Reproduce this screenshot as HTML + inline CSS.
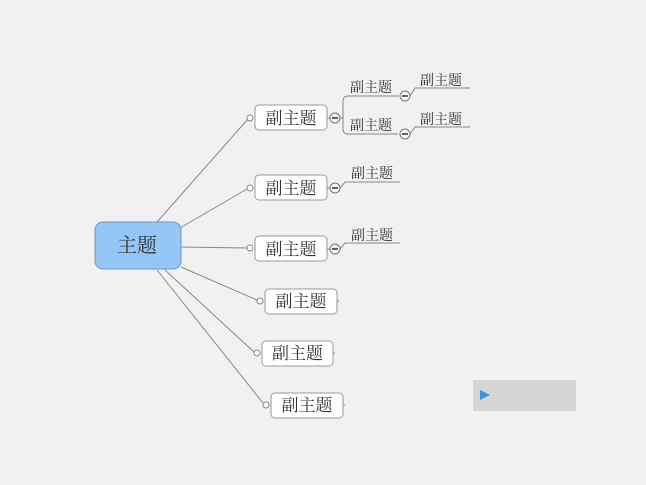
<!DOCTYPE html>
<html><head><meta charset="utf-8"><style>
html,body{margin:0;padding:0;background:#f1f1f1;}
svg{display:block}
text{font-family:"Liberation Serif","Noto Serif CJK SC",serif;fill:#333}
</style></head><body>
<svg width="646" height="485" xmlns="http://www.w3.org/2000/svg">
<rect width="646" height="485" fill="#f1f1f1"/>
<g stroke="#888" stroke-width="1" fill="none">
<line x1="157" y1="222" x2="248" y2="119"/>
<line x1="180" y1="228" x2="247" y2="189"/>
<line x1="181" y1="247" x2="247" y2="248"/>
<line x1="181" y1="267" x2="257" y2="300"/>
<line x1="165" y1="270" x2="254" y2="352"/>
<line x1="157" y1="270" x2="263" y2="403"/>
<line x1="327" y1="118" x2="330" y2="118"/>
<line x1="327" y1="188" x2="330" y2="188"/>
<line x1="327" y1="249" x2="330" y2="249"/>
<line x1="337" y1="301" x2="339" y2="301"/>
<line x1="333" y1="353" x2="335" y2="353"/>
<line x1="343" y1="405" x2="345" y2="405"/>
<path d="M340 118 H343 M343 118 V101 Q343 96 348 96 H398 M343 118 V129 Q343 134 348 134 H398"/>
<path d="M410 96 L415 88 H470 M410 134 L415 127 H470"/>
<path d="M340 188 L345 182 H400 M340 249 L345 243 H400"/>
</g>
<g fill="#fff" stroke="#888">
<circle cx="250" cy="118" r="3"/><circle cx="250" cy="188" r="3"/><circle cx="250" cy="248" r="3"/>
<circle cx="260" cy="301" r="3"/><circle cx="257" cy="353" r="3"/><circle cx="266" cy="405" r="3"/>
</g>
<g fill="#f4f4f4" stroke="#777">
<circle cx="335" cy="118" r="5"/><circle cx="335" cy="188" r="5"/><circle cx="335" cy="249" r="5"/>
<circle cx="405" cy="96" r="5"/><circle cx="405" cy="134" r="5"/>
</g>
<g stroke="#333" stroke-width="1.5">
<line x1="332" y1="118" x2="338" y2="118"/><line x1="332" y1="188" x2="338" y2="188"/><line x1="332" y1="249" x2="338" y2="249"/>
<line x1="402" y1="96" x2="408" y2="96"/><line x1="402" y1="134" x2="408" y2="134"/>
</g>
<rect x="95" y="222" width="86" height="47" rx="8" fill="#94c6f6" stroke="#6a98c8"/>
<text x="137" y="252" font-size="20" text-anchor="middle" fill="#2a3a4a">主题</text>
<g fill="#fff" stroke="#999">
<rect x="255" y="105" width="72" height="25" rx="4"/>
<rect x="255" y="175" width="72" height="25" rx="4"/>
<rect x="255" y="236" width="72" height="25" rx="4"/>
<rect x="265" y="289" width="72" height="25" rx="4"/>
<rect x="262" y="341" width="71" height="25" rx="4"/>
<rect x="271" y="393" width="72" height="25" rx="4"/>
</g>
<g font-size="17" text-anchor="middle">
<text x="291" y="124">副主题</text>
<text x="291" y="194">副主题</text>
<text x="291" y="255">副主题</text>
<text x="301" y="307">副主题</text>
<text x="297.5" y="359">副主题</text>
<text x="307" y="411">副主题</text>
</g>
<g font-size="14">
<text x="350" y="92">副主题</text>
<text x="350" y="130">副主题</text>
<text x="420" y="85">副主题</text>
<text x="420" y="124">副主题</text>
<text x="351" y="178">副主题</text>
<text x="351" y="240">副主题</text>
</g>
<rect x="473" y="380" width="103" height="31" fill="#d6d6d6"/>
<polygon points="480,390 490,395 480,400" fill="#3d8fe0"/>
</svg>
</body></html>
